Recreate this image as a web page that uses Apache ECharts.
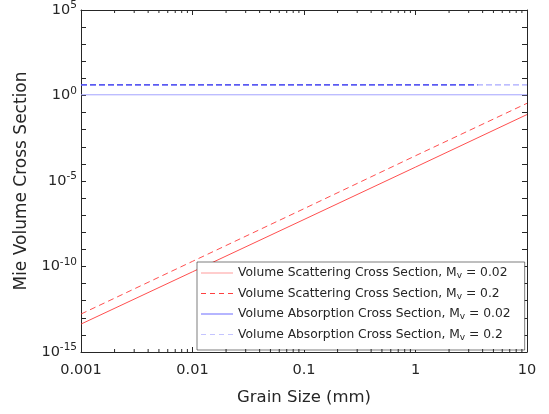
<!DOCTYPE html>
<html>
<head>
<meta charset="utf-8">
<script src="https://cdn.jsdelivr.net/npm/echarts@6/dist/echarts.min.js"></script>
<style>html,body{margin:0;padding:0;background:#fff}#c{width:549px;height:414px}</style>
</head>
<body>
<div id="c"></div>
<script>
// Grain size (mm)
const grainSize = [0.001, 0.01, 0.1, 1, 10];
// Volume scattering cross section, Mv = 0.02
const scat002 = [4.3e-14, 4.9e-11, 5.6e-8, 6.5e-5, 0.077];
// Volume scattering cross section, Mv = 0.2
const scat02 = [1.66e-13, 2.0e-10, 2.4e-7, 3.0e-4, 0.35];
// Volume absorption cross section, Mv = 0.02
const absGrain = [0.001, 10];
const abs002 = [1.1, 1.1];
// Volume absorption cross section, Mv = 0.2
const abs02 = [4.2, 4.2];
// darker overlapping dashed segment
const absOverlapGrain = [0.001, 3.6];
const absOverlap = [4.2, 4.2];

const seriesNames = [
  'Volume Scattering Cross Section, Mv = 0.02',
  'Volume Scattering Cross Section, Mv = 0.2',
  'Volume Absorption Cross Section, Mv = 0.02',
  'Volume Absorption Cross Section, Mv = 0.2'
];
const legendLabels = [
  ['Volume Scattering Cross Section, M', 'v', ' = 0.02'],
  ['Volume Scattering Cross Section, M', 'v', ' = 0.2'],
  ['Volume Absorption Cross Section, M', 'v', ' = 0.02'],
  ['Volume Absorption Cross Section, M', 'v', ' = 0.2']
];
const legendColors = ['#ff9a9a', '#ff4040', '#6b6bff', '#c4c4ff'];
const xTickLabels = ['0.001', '0.01', '0.1', '1', '10'];
const xMinorTicks = [0.002,0.003,0.004,0.005,0.006,0.007,0.008,0.009,
  0.02,0.03,0.04,0.05,0.06,0.07,0.08,0.09,
  0.2,0.3,0.4,0.5,0.6,0.7,0.8,0.9,
  2,3,4,5,6,7,8,9];

const FONT = 'DejaVu Sans';
const TXT = '#262626';
const zip = (xs, ys) => xs.map((x, i) => [x, ys[i]]);

// legend sample icons (solid / dashed strip)
const ICON_SOLID = 'path://M0,0L32,0L32,1L0,1Z';
const ICON_DASH = 'path://M0,0L5,0L5,1L0,1Z M9,0L14,0L14,1L9,1Z M18,0L23,0L23,1L18,1Z M27,0L32,0L32,1L27,1Z';

const chart = echarts.init(document.getElementById('c'), null, {renderer: 'canvas'});

const xCommon = {
  type: 'log', logBase: 10, min: 0.001, max: 10, interval: 1,
  axisLine: {show: true, onZero: false, lineStyle: {color: TXT, width: 1}},
  axisTick: {show: true, inside: true, length: 5, lineStyle: {color: TXT}},
  splitLine: {show: false}
};
const yCommon = {
  type: 'log', logBase: 10, min: 1e-15, max: 1e5, interval: 1,
  axisLine: {show: true, onZero: false, lineStyle: {color: TXT, width: 1}},
  axisTick: {show: true, inside: true, length: 5, lineStyle: {color: TXT}},
  splitLine: {show: false}
};

const option = {
  animation: false,
  backgroundColor: '#fff',
  grid: {left: 81, right: 22, top: 9, bottom: 62, containLabel: false},
  xAxis: [
    Object.assign({}, xCommon, {
      position: 'bottom',
      name: 'Grain Size (mm)', nameLocation: 'middle', nameGap: 37,
      nameTextStyle: {fontFamily: FONT, fontSize: 16.5, color: TXT},
      axisLabel: {
        show: true, margin: 11, fontFamily: FONT, fontSize: 14.5, color: TXT,
        formatter: v => {
          const e = Math.round(Math.log10(v));
          return xTickLabels[e + 3] || '';
        }
      }
    }),
    Object.assign({}, xCommon, {position: 'top', axisLabel: {show: false}})
  ],
  yAxis: [
    Object.assign({}, yCommon, {
      position: 'left',
      name: 'Mie Volume Cross Section', nameLocation: 'middle', nameGap: 47,
      nameTextStyle: {fontFamily: FONT, fontSize: 17, color: TXT},
      axisLabel: {
        show: true, margin: 4, fontFamily: FONT, color: TXT,
        formatter: v => {
          const e = Math.round(Math.log10(v));
          if (e % 5 !== 0) return '';
          return '{b|10}{s|' + e + '}';
        },
        rich: {
          b: {fontFamily: FONT, fontSize: 14.5, color: TXT, lineHeight: 20},
          s: {fontFamily: FONT, fontSize: 10.5, color: TXT, lineHeight: 10, verticalAlign: 'top'}
        }
      }
    }),
    Object.assign({}, yCommon, {position: 'right', axisLabel: {show: false}})
  ],
  legend: {
    show: true,
    orient: 'vertical', left: 197, top: 262,
    data: seriesNames.map((n, i) => ({
      name: n,
      icon: (i % 2 === 1) ? ICON_DASH : ICON_SOLID,
      itemStyle: {color: legendColors[i], opacity: 1, borderWidth: 0}
    })),
    itemWidth: 32, itemHeight: 1.2, itemGap: 7,
    padding: [5, 14, 8, 4],
    backgroundColor: '#fff', borderColor: TXT, borderWidth: 0.6, borderRadius: 0,
    formatter: name => {
      const p = legendLabels[seriesNames.indexOf(name)];
      return '{a|' + p[0] + '}{v|' + p[1] + '}{a|' + p[2] + '}';
    },
    textStyle: {
      fontFamily: FONT, color: TXT,
      rich: {
        a: {fontFamily: FONT, fontSize: 12.3, color: TXT, lineHeight: 15},
        v: {fontFamily: FONT, fontSize: 9, color: TXT, lineHeight: 9, verticalAlign: 'bottom'}
      }
    }
  },
  series: [
    {
      name: seriesNames[0], type: 'line', xAxisIndex: 0, yAxisIndex: 0,
      data: zip(grainSize, scat002), showSymbol: false, symbol: 'none',
      itemStyle: {color: '#ff3030'},
      lineStyle: {color: '#ff3030', width: 1, opacity: 0.85}, z: 3
    },
    {
      name: seriesNames[1], type: 'line', xAxisIndex: 0, yAxisIndex: 0,
      data: zip(grainSize, scat02), showSymbol: false, symbol: 'none',
      itemStyle: {color: '#ff3030'},
      lineStyle: {color: '#ff3030', width: 1, type: [6, 4], opacity: 0.85}, z: 3
    },
    {
      name: seriesNames[2], type: 'line', xAxisIndex: 0, yAxisIndex: 0,
      data: zip(absGrain, abs002), showSymbol: false, symbol: 'none',
      itemStyle: {color: '#a3a3ff'},
      lineStyle: {color: '#a3a3ff', width: 1}, z: 3
    },
    {
      name: seriesNames[3], type: 'line', xAxisIndex: 0, yAxisIndex: 0,
      data: zip(absGrain, abs02), showSymbol: false, symbol: 'none',
      itemStyle: {color: '#a8a8ff'},
      lineStyle: {color: '#a8a8ff', width: 1.2, type: [6, 3]}, z: 3
    },
    {
      name: 'overlap', type: 'line', xAxisIndex: 0, yAxisIndex: 0,
      data: zip(absOverlapGrain, absOverlap), showSymbol: false, symbol: 'none',
      itemStyle: {color: '#3a3aee'},
      lineStyle: {color: '#3a3aee', width: 1.2, type: [6, 3]}, z: 4
    },
    {
      name: 'minorTicks', type: 'custom', xAxisIndex: 0, yAxisIndex: 0,
      data: xMinorTicks.map(v => [v]), silent: true, z: 5,
      renderItem: (params, api) => {
        const b = api.coord([api.value(0), 1e-15]);
        const t = api.coord([api.value(0), 1e5]);
        return {
          type: 'group', children: [
            {type: 'line', shape: {x1: b[0], y1: b[1], x2: b[0], y2: b[1] - 3}, style: {stroke: TXT, lineWidth: 1}},
            {type: 'line', shape: {x1: t[0], y1: t[1], x2: t[0], y2: t[1] + 3}, style: {stroke: TXT, lineWidth: 1}}
          ]
        };
      }
    }
  ]
};
chart.setOption(option);
</script>
</body>
</html>
